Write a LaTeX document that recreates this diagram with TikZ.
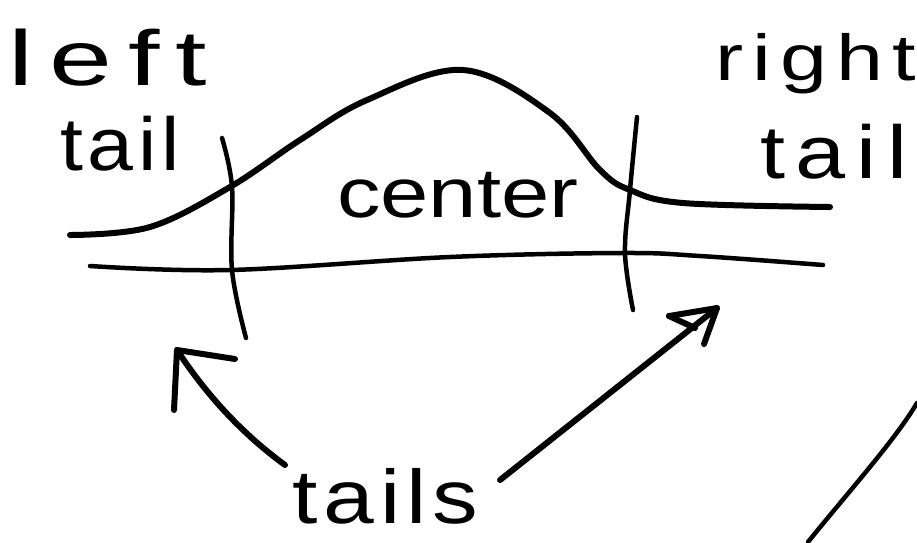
\documentclass[tikz,border=0pt]{standalone}
\usepackage{fontspec}
\usepackage{graphicx}
\setmainfont{Liberation Sans}
\newcommand{\handword}[3]{\scalebox{#2}[1]{\fontsize{#1}{#1}\selectfont #3}}
\tikzset{
  pen/.style={line width=6pt, line cap=round, line join=round},
  finepen/.style={line width=4.5pt, line cap=round, line join=round},
  word/.style={inner sep=0pt, anchor=base west},
}
\begin{document}
\begin{tikzpicture}[x=1pt, y=-1pt]
  \useasboundingbox (0,0) rectangle (917,542);

  % labels
  \node[word] (leftw)  at (8,85)    {\handword{78}{1.45}{l\kern11pt e\kern11pt f\kern11pt t}};
  \node[word] (ltail)  at (60,170)  {\handword{75}{1.1}{t\kern4.4pt a\kern4.4pt i\kern4.4pt l}};
  \node[word] (rightw) at (715,80)  {\handword{65}{1.3}{r\kern7pt i\kern7pt g\kern7pt h\kern7pt t}};
  \node[word] (rtail)  at (760,178) {\handword{75}{1.2}{t\kern8.9pt a\kern8.9pt i\kern8.9pt l}};
  \node[word] (center) at (337,217) {\handword{70}{1.24}{center}};
  \node[word] (tails)  at (292,523) {\handword{76}{1.2}{t\kern5pt a\kern5pt i\kern5pt l\kern5pt s}};

  % density curve
  \draw[pen] plot[smooth, tension=0.6] coordinates {
    (70,235) (150,227) (230,187) (300,140) (367,100) (463,70)
    (550,113) (600,170) (630,190) (683,203) (830,207)};

  % horizontal axis
  \draw[finepen] plot[smooth, tension=0.6] coordinates {
    (90,266) (230,270) (450,257) (623,253) (700,256) (823,265)};

  % cut lines between tails and centre
  \draw[finepen] plot[smooth, tension=0.6] coordinates {
    (222,138) (232,187) (232,270) (246,338)};
  \draw[finepen] plot[smooth, tension=0.6] coordinates {
    (637,117) (630,190) (625,253) (633,310)};

  % arrows from "tails" to the two cuts
  \coordinate (lstart) at (285,465);
  \coordinate (ltip)   at (177,350);
  \coordinate (rstart) at (500,480);
  \coordinate (rtip)   at (717,308);
  \draw[pen] (lstart) .. controls (255,443) and (215,408) .. (ltip);
  \draw[pen] ([shift={(58,9)}]ltip) -- (ltip) -- ([shift={(-3,60)}]ltip);
  \draw[pen] (rstart) -- (rtip);
  \draw[pen] ([shift={(-48,8)}]rtip) -- (rtip) -- ([shift={(-13,36)}]rtip);
  \draw[pen] ([shift={(-48,8)}]rtip) -- ([shift={(-22,20)}]rtip);

  % arc at the lower right
  \draw[finepen] (917,403) .. controls (895,440) and (850,490) .. (808,542);
\end{tikzpicture}
\end{document}
